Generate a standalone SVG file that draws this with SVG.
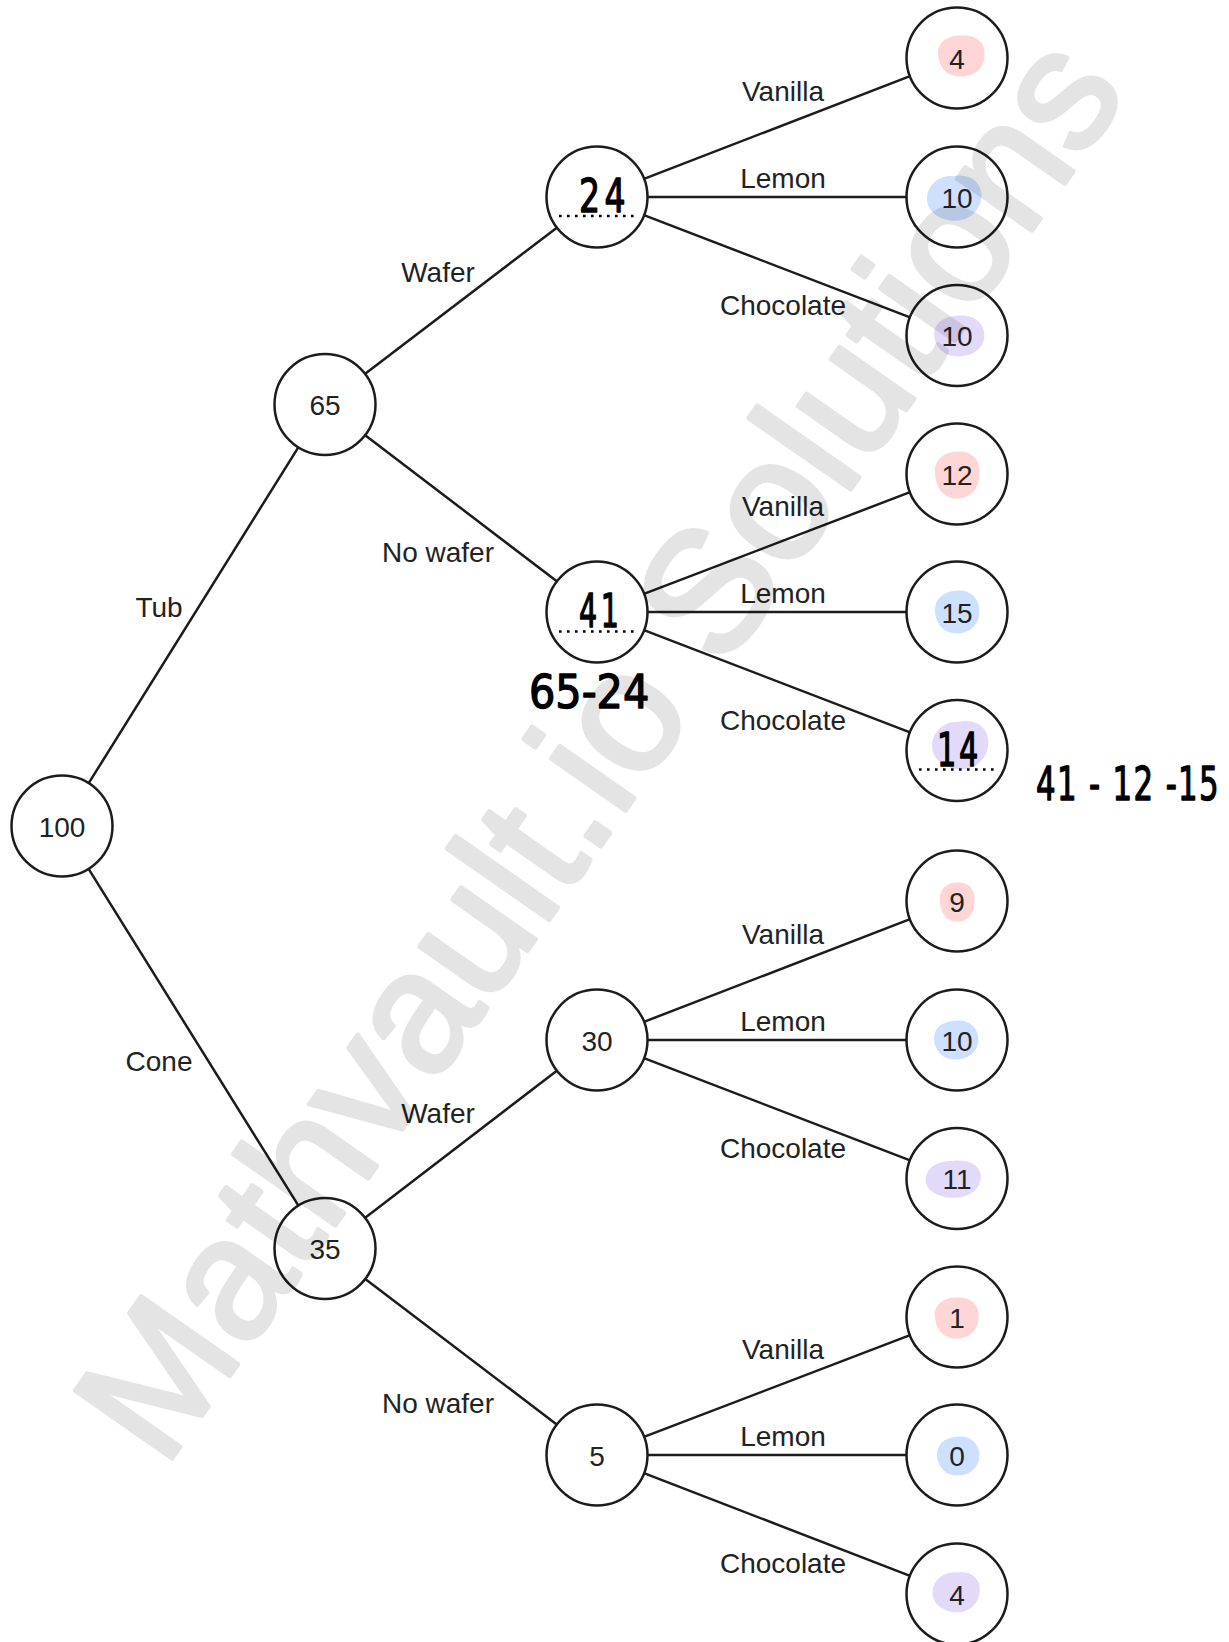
<svg xmlns="http://www.w3.org/2000/svg" xmlns:xlink="http://www.w3.org/1999/xlink" width="1229" height="1642" viewBox="0 0 1229 1642">
  <style>
    .bg { fill: #ffffff; }
    .edge { stroke: #1c1c1c; stroke-width: 2.5; fill: none; stroke-linecap: round; }
    .node { fill: none; stroke: #1c1c1c; stroke-width: 2.5; }
    .num { font-family: "Liberation Sans", Arial, sans-serif; font-size: 28px; fill: #222222; text-anchor: middle; }
    .lbl { font-family: "Liberation Sans", Arial, sans-serif; font-size: 28px; fill: #222222; text-anchor: middle; }
    .hand { font-family: "DejaVu Sans", sans-serif; font-size: 46px; fill: #000000; stroke: #000000; stroke-width: 1.4; stroke-linejoin: round; }
    .dots { stroke: #000000; stroke-width: 2.5; stroke-dasharray: 2.6 5.4; fill: none; }
    .pink { fill: #ffd5d5; }
    .blue { fill: #cde0ff; }
    .purple { fill: #e3dafa; }
    .mark { font-family: "Liberation Sans", Arial, sans-serif; font-size: 172px; fill: #000000; stroke: #000000; stroke-width: 4.5; stroke-linejoin: round; }
  </style>
  <defs>
    <!-- highlighter blobs, unit size, scaled per leaf -->
    <path id="blobA" d="M -0.96,-0.05 C -1.02,-0.62 -0.55,-1.0 0.02,-0.97 C 0.55,-1.02 1.02,-0.7 0.98,-0.08 C 1.0,0.55 0.58,1.0 0.0,0.98 C -0.6,1.0 -0.92,0.5 -0.96,-0.05 Z"/>
    <path id="blobB" d="M -0.98,0.1 C -1.0,-0.5 -0.6,-0.98 -0.05,-0.95 C 0.45,-1.05 0.9,-0.85 0.99,-0.25 C 1.05,0.35 0.7,0.95 0.1,0.99 C -0.5,1.02 -0.95,0.6 -0.98,0.1 Z"/>
    <path id="blobC" d="M -0.95,-0.2 C -0.9,-0.75 -0.4,-1.0 0.15,-0.98 C 0.7,-0.95 1.02,-0.5 0.97,0.1 C 0.92,0.65 0.45,1.02 -0.1,0.97 C -0.65,0.95 -1.0,0.4 -0.95,-0.2 Z"/>
  </defs>

  <rect class="bg" x="0" y="0" width="1229" height="1642"/>

  <!-- highlights behind leaf values -->
  <g id="highlights">
    <use xlink:href="#blobA" class="pink" transform="translate(961,56) scale(24,21)"/>
    <use xlink:href="#blobB" class="blue" transform="translate(954,198) scale(27.5,23)"/>
    <use xlink:href="#blobC" class="purple" transform="translate(959,336) scale(26,21)"/>
    <use xlink:href="#blobA" class="pink" transform="translate(957,475) scale(23,24)"/>
    <use xlink:href="#blobC" class="blue" transform="translate(957,612) scale(23,22)"/>
    <use xlink:href="#blobB" class="purple" transform="translate(960,745) scale(28.5,24.5)"/>
    <use xlink:href="#blobA" class="pink" transform="translate(957,902) scale(18,20)"/>
    <use xlink:href="#blobC" class="blue" transform="translate(956,1040) scale(23,20)"/>
    <use xlink:href="#blobB" class="purple" transform="translate(953,1179) scale(28,19)"/>
    <use xlink:href="#blobA" class="pink" transform="translate(956.5,1318) scale(22.5,21)"/>
    <use xlink:href="#blobC" class="blue" transform="translate(958,1456) scale(22,20)"/>
    <use xlink:href="#blobB" class="purple" transform="translate(956,1592) scale(24,20.5)"/>
  </g>

  <!-- branches -->
  <g id="connectors">
    <line class="edge" x1="89" y1="782.7" x2="298" y2="447.8"/>
    <line class="edge" x1="88.9" y1="869.3" x2="298.1" y2="1205.2"/>
    <line class="edge" x1="365.5" y1="373.6" x2="556.5" y2="227.9"/>
    <line class="edge" x1="365.5" y1="435.4" x2="556.5" y2="581.1"/>
    <line class="edge" x1="365.5" y1="1217.5" x2="556.5" y2="1071"/>
    <line class="edge" x1="365.6" y1="1279.3" x2="556.4" y2="1424.2"/>

    <line class="edge" x1="644.6" y1="178.6" x2="909.4" y2="76.4"/>
    <line class="edge" x1="648" y1="197" x2="906" y2="197"/>
    <line class="edge" x1="644.6" y1="215.3" x2="909.4" y2="317.2"/>

    <line class="edge" x1="644.6" y1="593.6" x2="909.4" y2="492.4"/>
    <line class="edge" x1="648" y1="612" x2="906" y2="612"/>
    <line class="edge" x1="644.6" y1="630.3" x2="909.4" y2="732.2"/>

    <line class="edge" x1="644.6" y1="1021.6" x2="909.4" y2="919.4"/>
    <line class="edge" x1="648" y1="1040" x2="906" y2="1040"/>
    <line class="edge" x1="644.6" y1="1058.3" x2="909.4" y2="1160.2"/>

    <line class="edge" x1="644.6" y1="1436.6" x2="909.4" y2="1335.4"/>
    <line class="edge" x1="648" y1="1455" x2="906" y2="1455"/>
    <line class="edge" x1="644.6" y1="1473.3" x2="909.4" y2="1575.7"/>
  </g>

  <!-- branch labels -->
  <g id="branch-labels">
    <text class="lbl" x="159" y="617">Tub</text>
    <text class="lbl" x="159" y="1071">Cone</text>
    <text class="lbl" x="438" y="282">Wafer</text>
    <text class="lbl" x="438" y="562">No wafer</text>
    <text class="lbl" x="438" y="1123">Wafer</text>
    <text class="lbl" x="438" y="1413">No wafer</text>

    <text class="lbl" x="783" y="101">Vanilla</text>
    <text class="lbl" x="783" y="188">Lemon</text>
    <text class="lbl" x="783" y="314.5">Chocolate</text>

    <text class="lbl" x="783" y="516">Vanilla</text>
    <text class="lbl" x="783" y="603">Lemon</text>
    <text class="lbl" x="783" y="729.5">Chocolate</text>

    <text class="lbl" x="783" y="944">Vanilla</text>
    <text class="lbl" x="783" y="1031">Lemon</text>
    <text class="lbl" x="783" y="1157.5">Chocolate</text>

    <text class="lbl" x="783" y="1359">Vanilla</text>
    <text class="lbl" x="783" y="1446">Lemon</text>
    <text class="lbl" x="783" y="1572.5">Chocolate</text>
  </g>

  <!-- nodes -->
  <g id="n-root"><circle class="node" cx="62" cy="826" r="50.5"/><text class="num" x="62" y="836.5">100</text></g>
  <g id="n-tub"><circle class="node" cx="325" cy="404.5" r="50.5"/><text class="num" x="325" y="415">65</text></g>
  <g id="n-cone"><circle class="node" cx="325" cy="1248.5" r="50.5"/><text class="num" x="325" y="1259">35</text></g>

  <g id="n-tub-wafer">
    <circle class="node" cx="597" cy="197" r="50.5"/>
    <text class="hand" transform="translate(579,212) scale(0.72,1)" letter-spacing="6">24</text>
    <line class="dots" x1="559" y1="216" x2="636" y2="216"/>
  </g>
  <g id="n-tub-nowafer">
    <circle class="node" cx="597" cy="612" r="50.5"/>
    <text class="hand" transform="translate(579,627) scale(0.62,1)" letter-spacing="6">41</text>
    <line class="dots" x1="559" y1="631.5" x2="636" y2="631.5"/>
  </g>
  <g id="n-cone-wafer"><circle class="node" cx="597" cy="1040" r="50.5"/><text class="num" x="597" y="1050.5">30</text></g>
  <g id="n-cone-nowafer"><circle class="node" cx="597" cy="1455" r="50.5"/><text class="num" x="597" y="1465.5">5</text></g>

  <g id="l-1"><circle class="node" cx="957" cy="58" r="50.5"/><text class="num" x="957" y="68.5">4</text></g>
  <g id="l-2"><circle class="node" cx="957" cy="197" r="50.5"/><text class="num" x="957" y="207.5">10</text></g>
  <g id="l-3"><circle class="node" cx="957" cy="335.5" r="50.5"/><text class="num" x="957" y="346">10</text></g>
  <g id="l-4"><circle class="node" cx="957" cy="474" r="50.5"/><text class="num" x="957" y="484.5">12</text></g>
  <g id="l-5"><circle class="node" cx="957" cy="612" r="50.5"/><text class="num" x="957" y="622.5">15</text></g>
  <g id="l-6">
    <circle class="node" cx="957" cy="750.5" r="50.5"/>
    <text class="hand" transform="translate(937,766) scale(0.66,1)" letter-spacing="4">14</text>
    <line class="dots" x1="919" y1="769.5" x2="996" y2="769.5"/>
  </g>
  <g id="l-7"><circle class="node" cx="957" cy="901" r="50.5"/><text class="num" x="957" y="911.5">9</text></g>
  <g id="l-8"><circle class="node" cx="957" cy="1040" r="50.5"/><text class="num" x="957" y="1050.5">10</text></g>
  <g id="l-9"><circle class="node" cx="957" cy="1178.5" r="50.5"/><text class="num" x="957" y="1189">11</text></g>
  <g id="l-10"><circle class="node" cx="957" cy="1317" r="50.5"/><text class="num" x="957" y="1327.5">1</text></g>
  <g id="l-11"><circle class="node" cx="957" cy="1455" r="50.5"/><text class="num" x="957" y="1465.5">0</text></g>
  <g id="l-12"><circle class="node" cx="957" cy="1594" r="50.5"/><text class="num" x="957" y="1604.5">4</text></g>

  <!-- handwritten working -->
  <g id="working">
    <text class="hand" transform="translate(529,708) scale(0.9,1)" font-size="48">65-24</text>
    <text class="hand" transform="translate(1036,800) scale(0.67,1)" font-size="50" letter-spacing="2">41 - 12 -15</text>
  </g>

  <!-- watermark -->
  <g id="watermark" opacity="0.1">
    <text class="mark" transform="translate(164,1470) rotate(-55)">Mathvault.io Solutions</text>
  </g>
</svg>
